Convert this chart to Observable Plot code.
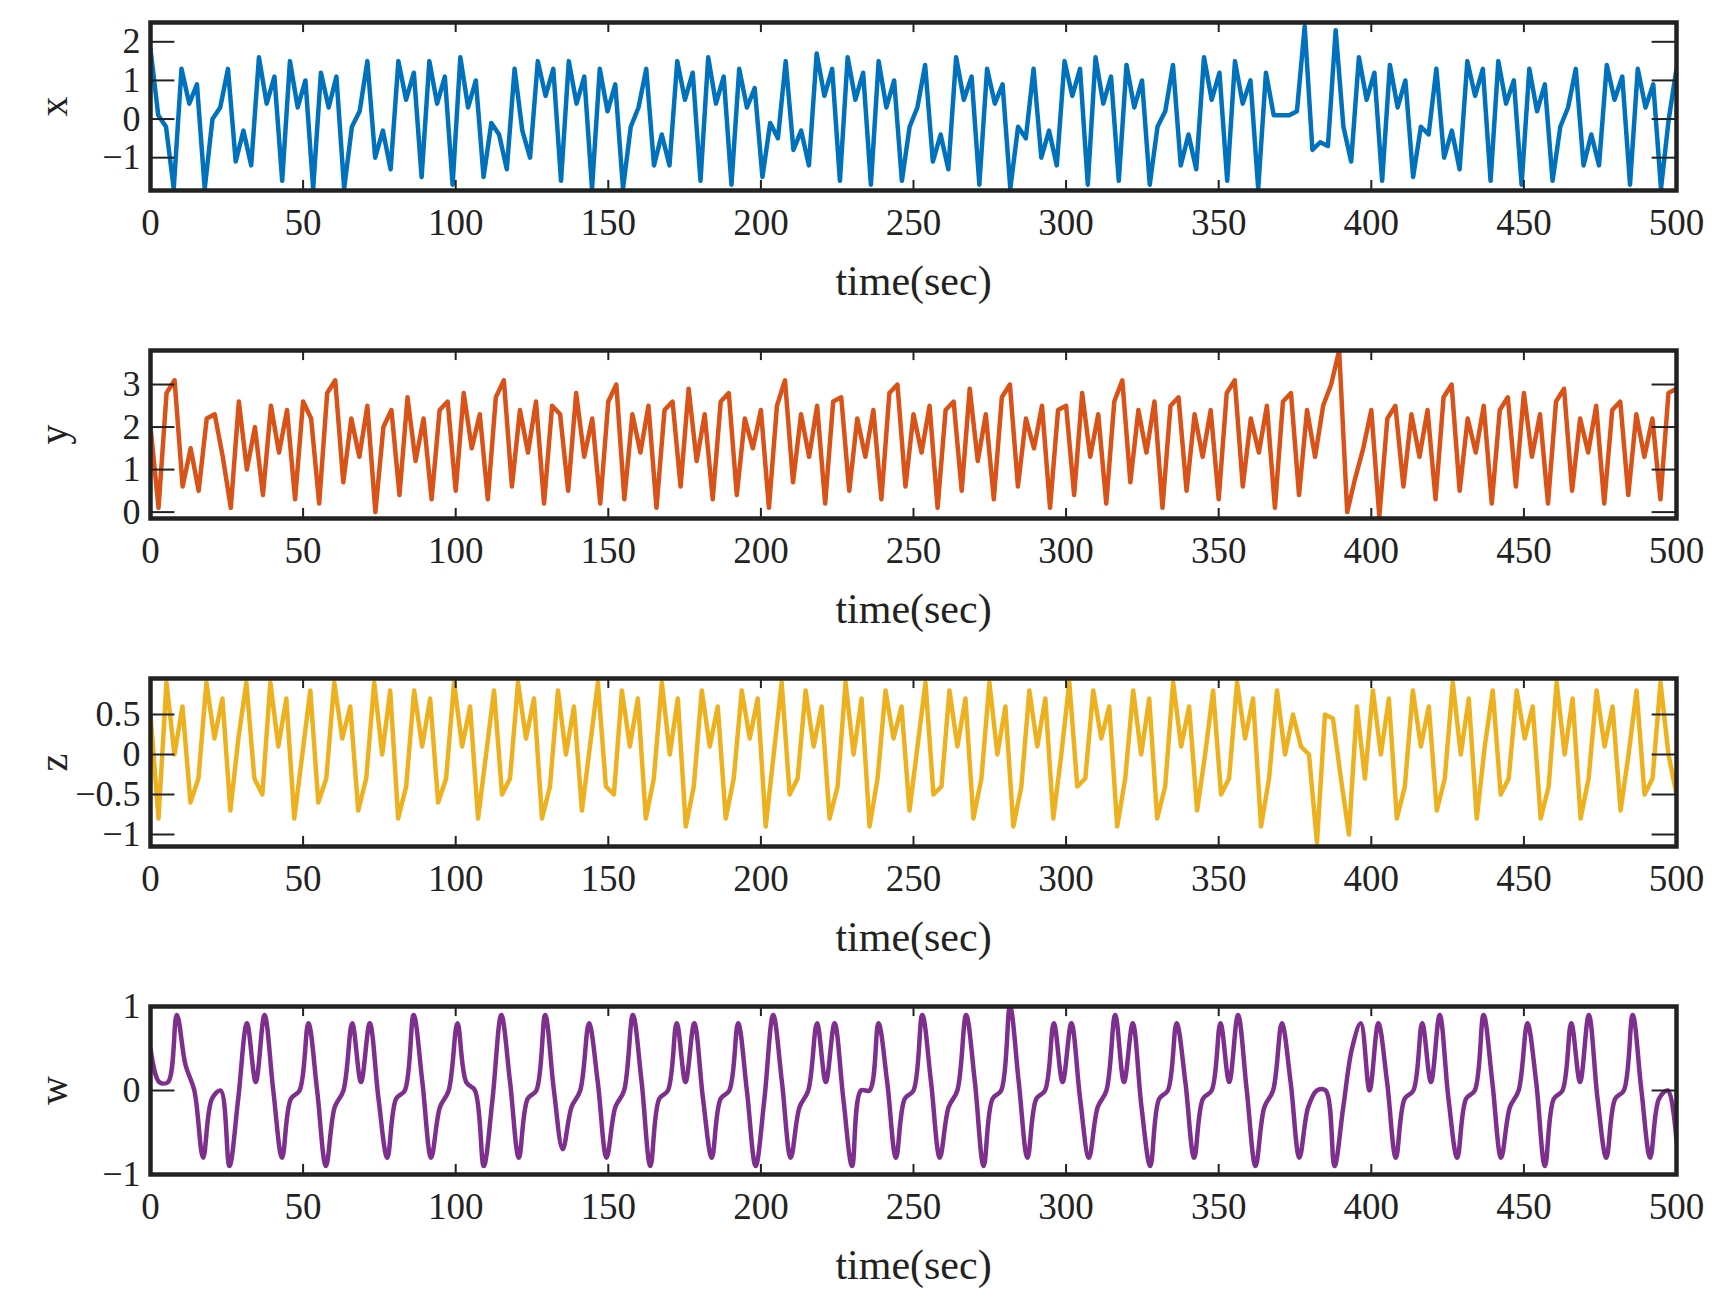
<!DOCTYPE html>
<html><head><meta charset="utf-8">
<script src="https://cdn.jsdelivr.net/npm/d3@7"></script>
<script src="https://cdn.jsdelivr.net/npm/@observablehq/plot@0.6"></script>
<style>body{margin:0;background:#fff}#c svg{display:block}</style>
</head><body><div id="c"></div>
<script>
const xVals=[1.8,0.1,-0.2,-1.8,1.3,0.4,0.9,-1.8,0.0,0.3,1.3,-1.1,-0.3,-1.2,1.6,0.4,1.1,-1.6,1.5,0.3,1.0,-1.8,1.2,0.3,1.1,-1.8,-0.2,0.2,1.5,-1.0,-0.3,-1.3,1.5,0.5,1.2,-1.5,1.5,0.4,1.1,-1.7,1.6,0.3,1.0,-1.5,-0.1,-0.4,-1.3,1.3,-0.3,-1.0,1.5,0.6,1.3,-1.6,1.5,0.4,1.1,-1.8,1.3,0.2,0.9,-1.8,-0.2,0.3,1.3,-1.2,-0.4,-1.2,1.5,0.5,1.2,-1.6,1.6,0.4,1.1,-1.7,1.3,0.3,0.8,-1.5,-0.1,-0.5,1.5,-0.8,-0.3,-1.2,1.7,0.6,1.3,-1.6,1.6,0.5,1.2,-1.7,1.5,0.3,1.0,-1.6,-0.2,0.3,1.4,-1.1,-0.4,-1.3,1.6,0.5,1.1,-1.7,1.3,0.4,0.9,-1.8,-0.2,-0.5,1.3,-1.0,-0.3,-1.2,1.5,0.6,1.3,-1.7,1.6,0.4,1.1,-1.6,1.4,0.3,1.0,-1.7,-0.2,0.2,1.4,-1.2,-0.4,-1.3,1.6,0.5,1.2,-1.6,1.5,0.4,1.0,-1.8,1.2,0.1,0.1,0.1,0.2,2.4,-0.8,-0.6,-0.7,2.3,-0.2,-1.1,1.6,0.5,1.2,-1.6,1.4,0.3,1.0,-1.5,-0.2,-0.4,1.3,-1.0,-0.3,-1.3,1.5,0.6,1.3,-1.6,1.5,0.4,1.0,-1.7,1.3,0.2,0.9,-1.6,-0.2,0.3,1.3,-1.2,-0.4,-1.2,1.4,0.5,1.1,-1.7,1.3,0.3,0.9,-1.8,0.0,1.3];
const yVals=[2.0,0.1,2.8,3.1,0.6,1.5,0.5,2.2,2.3,1.3,0.1,2.6,1.0,2.0,0.4,2.5,1.4,2.4,0.3,2.6,2.2,0.2,2.8,3.1,0.7,2.2,1.3,2.5,0.0,2.0,2.4,0.4,2.7,1.2,2.2,0.3,2.4,2.6,0.5,2.8,1.5,2.3,0.3,2.7,3.1,0.6,2.4,1.4,2.6,0.2,2.5,2.3,0.5,2.8,1.3,2.2,0.2,2.6,3.0,0.3,2.3,1.4,2.5,0.1,2.4,2.6,0.6,2.9,1.2,2.3,0.3,2.6,2.8,0.4,2.2,1.5,2.4,0.1,2.5,3.1,0.7,2.3,1.3,2.5,0.2,2.6,2.7,0.5,2.2,1.3,2.4,0.3,2.8,3.0,0.6,2.3,1.4,2.5,0.1,2.4,2.6,0.5,2.9,1.2,2.3,0.3,2.7,3.0,0.6,2.2,1.5,2.5,0.1,2.4,2.5,0.4,2.8,1.3,2.3,0.2,2.6,3.1,0.7,2.4,1.4,2.6,0.1,2.5,2.7,0.5,2.3,1.3,2.4,0.3,2.8,3.1,0.6,2.2,1.4,2.5,0.1,2.6,2.8,0.4,2.4,1.3,2.5,3.0,3.8,0.0,0.8,1.5,2.4,-0.1,2.2,2.5,0.6,2.3,1.3,2.4,0.3,2.7,3.0,0.5,2.2,1.4,2.5,0.2,2.4,2.7,0.6,2.8,1.3,2.3,0.2,2.6,2.9,0.5,2.2,1.4,2.5,0.2,2.4,2.6,0.4,2.3,1.3,2.2,0.3,2.8,2.9];
const zVals=[0.5,-0.8,0.9,0.0,0.6,-0.6,-0.3,0.9,0.2,0.7,-0.7,0.2,0.9,-0.3,-0.5,0.9,0.1,0.7,-0.8,0.0,0.8,-0.6,-0.3,0.9,0.2,0.6,-0.7,-0.3,0.9,0.0,0.8,-0.8,-0.4,0.8,0.1,0.7,-0.6,-0.3,0.9,0.1,0.6,-0.8,0.0,0.8,-0.5,-0.3,0.9,0.2,0.7,-0.8,-0.4,0.8,0.0,0.6,-0.7,0.1,0.9,-0.4,-0.5,0.8,0.1,0.7,-0.8,-0.3,0.9,0.0,0.7,-0.9,-0.4,0.8,0.1,0.6,-0.8,-0.3,0.8,0.2,0.7,-0.9,0.0,0.9,-0.5,-0.3,0.8,0.1,0.6,-0.8,-0.4,0.9,0.0,0.7,-0.9,-0.3,0.8,0.2,0.6,-0.7,0.1,0.9,-0.5,-0.4,0.8,0.1,0.7,-0.8,-0.3,0.9,0.0,0.6,-0.9,-0.4,0.8,0.1,0.7,-0.8,0.0,0.9,-0.4,-0.3,0.8,0.2,0.6,-0.9,-0.3,0.8,0.0,0.7,-0.8,-0.4,0.9,0.1,0.6,-0.7,0.0,0.8,-0.5,-0.3,0.9,0.2,0.7,-0.9,-0.3,0.8,0.0,0.5,0.1,0.0,-1.1,0.5,0.45,-0.3,-1.0,0.6,-0.3,0.8,0.0,0.7,-0.8,-0.4,0.8,0.1,0.6,-0.7,-0.3,0.9,0.0,0.7,-0.8,0.1,0.8,-0.5,-0.3,0.8,0.2,0.6,-0.8,-0.4,0.9,0.0,0.7,-0.8,-0.3,0.8,0.1,0.6,-0.7,0.0,0.8,-0.5,-0.3,0.9,0.0,-0.5];
const wVals=[0.5,0.1,0.1,0.9,0.3,0.0,-0.8,-0.1,0.0,-0.9,-0.1,0.8,0.1,0.9,0.0,-0.8,-0.1,0.0,0.8,0.0,-0.9,-0.2,0.0,0.8,0.1,0.8,-0.1,-0.8,-0.1,0.0,0.9,0.1,-0.8,-0.2,0.0,0.8,0.1,0.0,-0.9,-0.1,0.9,0.1,-0.8,-0.1,0.0,0.9,0.0,-0.7,-0.2,0.0,0.8,0.1,-0.8,-0.2,0.0,0.9,0.1,-0.9,-0.1,0.0,0.8,0.1,0.8,-0.1,-0.8,-0.1,0.0,0.8,0.0,-0.9,-0.1,0.9,0.1,-0.8,-0.2,0.0,0.8,0.1,0.8,-0.1,-0.9,0.0,0.0,0.8,0.1,-0.8,-0.1,0.0,0.9,0.1,-0.8,-0.2,0.0,0.9,0.1,-0.9,-0.1,0.0,1.0,0.1,-0.8,-0.1,0.0,0.8,0.1,0.8,-0.1,-0.8,-0.2,0.0,0.9,0.1,0.8,-0.2,-0.9,-0.1,0.0,0.8,0.1,-0.8,-0.1,0.0,0.8,0.1,0.9,0.0,-0.9,-0.2,0.0,0.8,0.1,-0.8,-0.2,0.0,0.0,-0.9,-0.2,0.5,0.8,0.0,0.8,0.1,-0.8,-0.1,0.0,0.8,0.1,0.9,-0.1,-0.8,-0.1,0.0,0.9,0.1,-0.8,-0.2,0.0,0.8,0.1,-0.9,-0.1,0.0,0.8,0.1,0.9,-0.1,-0.8,-0.1,0.0,0.9,0.0,-0.8,-0.1,0.0,-0.6];
const xTicks=[0,50,100,150,200,250,300,350,400,450,500];
const panels=[
 {label:"x",vals:xVals,color:"#0072BD",domain:[-1.85,2.5],ticks:[-1,0,1,2],curve:"linear"},
 {label:"y",vals:yVals,color:"#D95319",domain:[-0.15,3.8],ticks:[0,1,2,3],curve:"linear"},
 {label:"z",vals:zVals,color:"#EDB120",domain:[-1.15,0.95],ticks:[-1,-0.5,0,0.5],curve:"linear"},
 {label:"w",vals:wVals,color:"#7E2F8E",domain:[-1,1],ticks:[-1,0,1],curve:"catmull-rom"}
];
const c=document.getElementById("c");
for(const p of panels){
  const n=p.vals.length;
  const data=p.vals.map((v,i)=>({t:i*500/(n-1),v}));
  const [d0,d1]=p.domain, tl=(d1-d0)*0.06;
  const fmt=d=>String(d).replace("-","\u2212");
  const svg=Plot.plot({
    width:1720,height:328,marginLeft:150,marginRight:44,marginTop:22,marginBottom:138,
    style:{fontFamily:"Liberation Serif, Times New Roman, serif",fontSize:"36px",color:"#222",overflow:"visible"},
    x:{domain:[0,500]},
    y:{domain:p.domain},
    marks:[
      Plot.line(data,{x:"t",y:"v",stroke:p.color,strokeWidth:4.5,curve:p.curve,clip:true}),
      Plot.ruleX(xTicks,{y1:d0,y2:d0+tl,stroke:"#222",strokeWidth:2}),
      Plot.ruleX(xTicks,{y1:d1,y2:d1-tl,stroke:"#222",strokeWidth:2}),
      Plot.ruleY(p.ticks,{x1:0,x2:8,stroke:"#222",strokeWidth:2}),
      Plot.ruleY(p.ticks,{x1:500,x2:492,stroke:"#222",strokeWidth:2}),
      Plot.frame({stroke:"#222",strokeWidth:4.5}),
      Plot.axisX({ticks:xTicks,tickSize:0,tickPadding:18,label:null,fontSize:37}),
      Plot.axisX({ticks:[],label:"time(sec)",labelAnchor:"center",labelArrow:"none",labelOffset:104,fontSize:42}),
      Plot.axisY({ticks:p.ticks,tickSize:0,tickPadding:10,tickFormat:fmt,label:null,fontSize:36}),
      Plot.axisY({ticks:[],label:p.label,labelAnchor:"center",labelArrow:"none",labelOffset:112,fontSize:40})
    ]
  });
  c.appendChild(svg);
}
</script></body></html>
